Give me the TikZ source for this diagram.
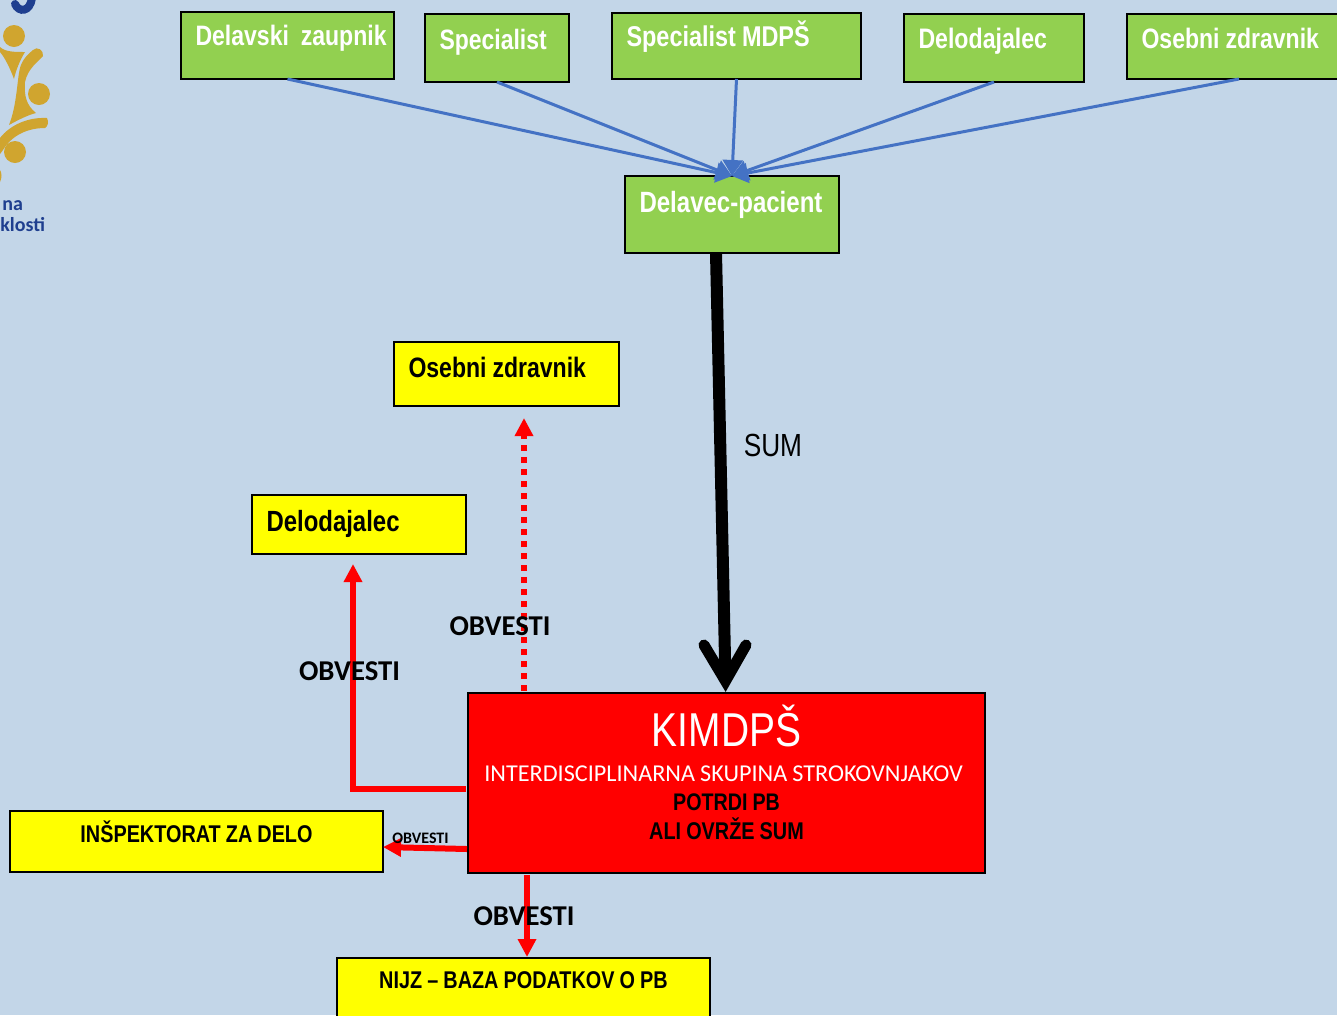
\documentclass[tikz,border=0pt]{standalone}
\usepackage{fontspec}
\setmainfont{Liberation Sans}
\newfontfamily\narrowf{Liberation Sans}[FakeStretch=0.82]
\newfontfamily\carl{Carlito}
\usetikzlibrary{arrows.meta,calc}
\newdimen\pxu \pxu=0.75pt
\definecolor{bgblue}{HTML}{C3D6E8}
\definecolor{boxgreen}{HTML}{92D050}
\definecolor{boxyellow}{HTML}{FFFF00}
\definecolor{boxred}{HTML}{FF0000}
\definecolor{linkblue}{HTML}{4472C4}
\definecolor{golddark}{HTML}{D0A52F}
\definecolor{goldlight}{HTML}{F3DA7C}
\definecolor{logonavy}{HTML}{1F3F8F}
\newcommand{\fsz}[1]{\fontsize{#1\pxu}{#1\pxu}\selectfont\spaceskip=0.21em\relax}
\tikzset{
  x=0.75pt,y=-0.75pt,
  basebox/.style={draw=black,line width=2\pxu,inner xsep=0pt,inner ysep=0pt,outer sep=0pt,anchor=north west},
  dims/.style n args={3}{text width=#1\pxu,text height=#2\pxu,text depth=#3\pxu},
  leftbox/.style={basebox,align=left,execute at begin node={\spaceskip=0.21em\relax\hspace*{14.5\pxu}},font=\narrowf\bfseries\fsz{28.1}},
  greenbox/.style={leftbox,fill=boxgreen,text=white},
  yellowbox/.style={leftbox,fill=boxyellow,text=black},
  centerbox/.style={basebox,fill=boxyellow,text=black,align=center,execute at begin node={\spaceskip=0.21em\relax},font=\narrowf\bfseries\fsz{24.2}},
  feed/.style={linkblue,line width=3\pxu,-{Triangle[length=12pt,width=15pt]}},
  notify/.style={boxred,line width=6\pxu,-{Triangle[length=13.5pt,width=13.2pt]}},
  notifytext/.style={font=\carl\bfseries\fsz{28.7},text=black,inner sep=0pt},
  notifysmall/.style={font=\carl\bfseries\fsz{16},text=black,inner sep=0pt},
  goldshade/.style={left color=golddark,middle color=goldlight,right color=golddark,draw=none},
}
\begin{document}
\begin{tikzpicture}
\useasboundingbox (0,0) rectangle (1337,1015);
\clip (0,0) rectangle (1337,1015);
\fill[bgblue] (0,0) rectangle (1337,1015);

% logo fragment
\shade[goldshade] (14,36) circle (11);
\shade[goldshade] (39,94) circle (11);
\shade[goldshade] (15,152) circle (11);
\shade[goldshade] (0,47) .. controls (5,52) and (15,52) .. (25,52) .. controls (20,60) and (16,70) .. (14,79) .. controls (10,68) and (5,58) .. (0,52) -- cycle;
\shade[goldshade] (33,50) .. controls (37,46) and (44,50) .. (43,56) .. controls (38,62) and (28,68) .. (25,82) .. controls (24,95) and (26,105) .. (36,113) .. controls (28,115) and (18,120) .. (9,125) .. controls (17,105) and (17,80) .. (20,68) .. controls (22,60) and (28,54) .. (33,50) -- cycle;
\shade[goldshade] (47,118) .. controls (49,122) and (48,126) .. (45,128) .. controls (28,128) and (12,135) .. (3,150) -- (0,154) -- (0,138) .. controls (10,125) and (28,117) .. (47,118) -- cycle;
\fill[golddark] (0,170) .. controls (2,173) and (2,178) .. (0,182) -- cycle;
\draw[logonavy,line width=8\pxu,line cap=round] (15,4) .. controls (19,13) and (30,12) .. (32,-2);
\node[anchor=base west,inner sep=0pt,text=logonavy,font=\carl\bfseries\fsz{20}] (logona) at (2,210) {na};
\node[anchor=base west,inner sep=0pt,text=logonavy,font=\carl\bfseries\fsz{20}] (logoklosti) at (0,231) {klosti};

% top row
\node[greenbox,dims={213}{33}{34}] (zaupnik) at (181,12) {\mbox{Delavski\ \ zaupnik}};
\node[greenbox,dims={144}{35}{33},font=\narrowf\bfseries\fsz{28}] (specialist) at (425,14) {Specialist};
\node[greenbox,dims={249}{33}{33},font=\narrowf\bfseries\fsz{28.6}] (mdps) at (612,13) {Specialist MDPŠ};
\node[greenbox,dims={180}{34}{34},font=\narrowf\bfseries\fsz{28.2}] (delodajalecg) at (904,14) {Delodajalec};
\node[greenbox,dims={224}{34}{31}] (osebnig) at (1127,14) {Osebni zdravnik};
\node[greenbox,dims={214}{36}{41},font=\narrowf\bfseries\fsz{29.3}] (pacient) at (625,176) {Delavec-pacient};

\draw[feed] (zaupnik.south) -- (pacient.north);
\draw[feed] (specialist.south) -- (pacient.north);
\draw[feed] (mdps.south) -- (pacient.north);
\draw[feed] (delodajalecg.south) -- (pacient.north);
\draw[feed] (osebnig.south) -- (pacient.north);

% receivers
\node[yellowbox,dims={225}{35}{29}] (osebniy) at (394,342) {Osebni zdravnik};
\node[yellowbox,dims={214}{36}{23},font=\narrowf\bfseries\fsz{29.2}] (delodajalecy) at (252,495) {Delodajalec};
\node[centerbox,dims={373}{31}{30}] (inspektorat) at (10,811) {INŠPEKTORAT ZA DELO};
\node[centerbox,dims={373}{30}{40}] (nijz) at (337,958) {NIJZ – BAZA PODATKOV O PB};

% central box
\node[basebox,fill=boxred,text=white,align=center,dims={517}{53}{127}] (kim) at (468,693)
 {{\narrowf\fsz{47.5}KIMDPŠ}\\[18\pxu]
  {\hspace*{-6\pxu}\carl\fsz{24.2}INTERDISCIPLINARNA SKUPINA STROKOVNJAKOV}\\[11\pxu]
  {\narrowf\bfseries\fsz{24}\color{black}POTRDI PB}\\[5\pxu]
  {\narrowf\bfseries\fsz{24.2}\color{black}ALI OVRŽE SUM}};

% SUM arrow
\coordinate (sumstart) at (716,253);
\coordinate (sumapex) at ($(kim.north)+(-1,-12)$);
\draw[black,line width=12\pxu] (sumstart) -- (sumapex);
\draw[black,line width=11\pxu,line cap=round,line join=miter] (704,645) -- (sumapex) -- (746,645);
\node[anchor=base west,inner sep=0pt,font=\narrowf\fsz{32}] (sumlabel) at (743.5,456) {SUM};

% notify arrows
\coordinate (dotstart) at (524,691);
\coordinate (dotend) at (524,418);
\draw[boxred,line width=6\pxu,dash pattern=on 6\pxu off 6\pxu,-{Triangle[length=13.5pt,width=13.2pt]}] (dotstart) -- (dotend);
\coordinate (leftstart) at (466,789);
\coordinate (leftcorner) at (353,789);
\coordinate (leftend) at (353,564);
\draw[notify] (leftstart) -- (leftcorner) -- (leftend);
\coordinate (inspstart) at (467,849);
\draw[notify] (inspstart) -- (inspektorat.east |- 0,847);
\coordinate (nijzstart) at (527,875);
\coordinate (nijzend) at (527,957);
\draw[notify] (nijzstart) -- (nijzend);

\node[notifytext,anchor=base] (ob1) at (500,635.5) {OBVESTI};
\node[notifytext,anchor=base] (ob2) at (349.5,680.5) {OBVESTI};
\node[notifysmall,anchor=base] (ob3) at (420.5,843) {OBVESTI};
\node[notifytext,anchor=base] (ob4) at (524,925.5) {OBVESTI};
\end{tikzpicture}
\end{document}
